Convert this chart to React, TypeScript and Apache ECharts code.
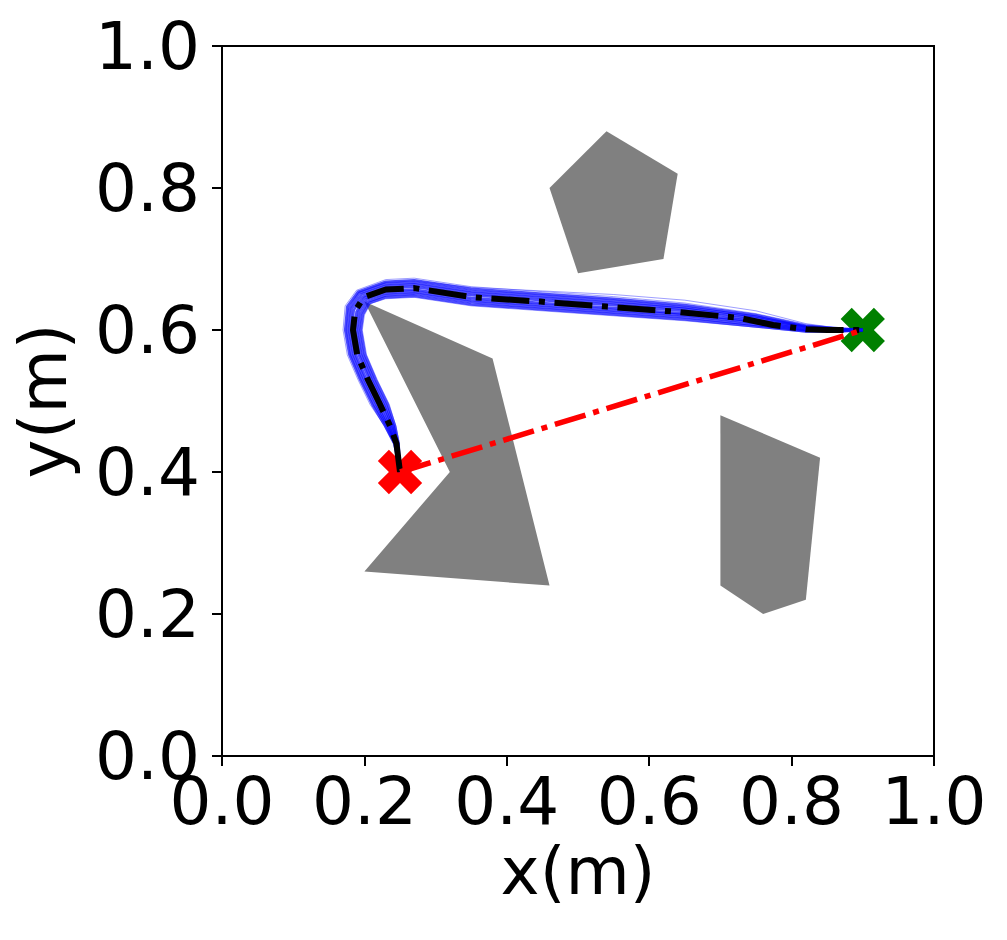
import React, { useEffect, useRef } from "react";
import * as echarts from "echarts";

const xTicks = [0, 0.2, 0.4, 0.6, 0.8, 1.0];
const startPoint = [0.25, 0.4];
const goalPoint = [0.9, 0.6];

const obstacles = [
  [[0.2, 0.64], [0.38, 0.56], [0.46, 0.24], [0.2, 0.26], [0.32, 0.4]],
  [[0.54, 0.88], [0.64, 0.82], [0.62, 0.7], [0.5, 0.68], [0.46, 0.8]],
  [[0.7, 0.48], [0.84, 0.42], [0.82, 0.22], [0.76, 0.2], [0.7, 0.24]],
];

const meanPath = [
  [0.25, 0.4], [0.245, 0.44], [0.236, 0.465], [0.222, 0.495], [0.205, 0.53], [0.19, 0.565],
  [0.184, 0.6], [0.187, 0.627], [0.199, 0.646], [0.23, 0.657], [0.27, 0.659], [0.353, 0.646],
  [0.447, 0.64], [0.54, 0.633], [0.634, 0.626], [0.727, 0.617], [0.774, 0.607], [0.821, 0.601],
  [0.85, 0.6], [0.9, 0.6],
];

const sampled1 = [[0.25, 0.4], [0.241, 0.44], [0.228, 0.465], [0.208, 0.495], [0.191, 0.53], [0.176, 0.565], [0.17, 0.6], [0.173, 0.634], [0.189, 0.656], [0.23, 0.671], [0.27, 0.673], [0.35, 0.661], [0.45, 0.654], [0.55, 0.647], [0.65, 0.638], [0.75, 0.623], [0.82, 0.608], [0.87, 0.602], [0.9, 0.6]];
const sampled2 = [[0.25, 0.4], [0.242, 0.44], [0.229, 0.465], [0.211, 0.495], [0.194, 0.53], [0.179, 0.565], [0.173, 0.6], [0.176, 0.633], [0.191, 0.654], [0.23, 0.668], [0.27, 0.67], [0.35, 0.658], [0.45, 0.651], [0.55, 0.644], [0.65, 0.635], [0.75, 0.621], [0.82, 0.606], [0.87, 0.602], [0.9, 0.6]];
const sampled3 = [[0.25, 0.4], [0.243, 0.44], [0.231, 0.465], [0.214, 0.495], [0.197, 0.53], [0.182, 0.565], [0.176, 0.6], [0.179, 0.631], [0.193, 0.652], [0.23, 0.665], [0.27, 0.667], [0.35, 0.655], [0.45, 0.648], [0.55, 0.641], [0.65, 0.632], [0.75, 0.619], [0.82, 0.605], [0.87, 0.601], [0.9, 0.6]];
const sampled4 = [[0.25, 0.4], [0.244, 0.44], [0.233, 0.465], [0.217, 0.495], [0.2, 0.53], [0.185, 0.565], [0.179, 0.6], [0.182, 0.63], [0.196, 0.65], [0.23, 0.662], [0.27, 0.664], [0.35, 0.652], [0.45, 0.645], [0.55, 0.638], [0.65, 0.63], [0.75, 0.617], [0.82, 0.604], [0.87, 0.601], [0.9, 0.6]];
const sampled5 = [[0.25, 0.4], [0.244, 0.44], [0.235, 0.465], [0.22, 0.495], [0.203, 0.53], [0.188, 0.565], [0.182, 0.6], [0.185, 0.628], [0.198, 0.647], [0.23, 0.659], [0.27, 0.661], [0.35, 0.649], [0.45, 0.642], [0.55, 0.635], [0.65, 0.627], [0.75, 0.614], [0.82, 0.603], [0.87, 0.6], [0.9, 0.6]];
const sampled6 = [[0.25, 0.4], [0.246, 0.44], [0.237, 0.465], [0.224, 0.495], [0.207, 0.53], [0.192, 0.565], [0.186, 0.6], [0.189, 0.626], [0.2, 0.645], [0.23, 0.655], [0.27, 0.657], [0.35, 0.645], [0.45, 0.638], [0.55, 0.631], [0.65, 0.623], [0.75, 0.612], [0.82, 0.601], [0.87, 0.6], [0.9, 0.6]];
const sampled7 = [[0.25, 0.4], [0.247, 0.44], [0.239, 0.465], [0.227, 0.495], [0.21, 0.53], [0.195, 0.565], [0.189, 0.6], [0.192, 0.625], [0.203, 0.643], [0.23, 0.652], [0.27, 0.654], [0.35, 0.642], [0.45, 0.635], [0.55, 0.628], [0.65, 0.621], [0.75, 0.61], [0.82, 0.6], [0.87, 0.599], [0.9, 0.6]];
const sampled8 = [[0.25, 0.4], [0.247, 0.44], [0.241, 0.465], [0.23, 0.495], [0.213, 0.53], [0.198, 0.565], [0.192, 0.6], [0.195, 0.623], [0.205, 0.64], [0.23, 0.649], [0.27, 0.651], [0.35, 0.639], [0.45, 0.632], [0.55, 0.625], [0.65, 0.618], [0.75, 0.607], [0.82, 0.599], [0.87, 0.599], [0.9, 0.6]];
const sampled9 = [[0.25, 0.4], [0.248, 0.44], [0.243, 0.465], [0.233, 0.495], [0.216, 0.53], [0.201, 0.565], [0.195, 0.6], [0.198, 0.622], [0.207, 0.638], [0.23, 0.646], [0.27, 0.648], [0.35, 0.636], [0.45, 0.629], [0.55, 0.622], [0.65, 0.615], [0.75, 0.605], [0.82, 0.598], [0.87, 0.598], [0.9, 0.6]];
const sampled10 = [[0.25, 0.4], [0.249, 0.44], [0.244, 0.465], [0.235, 0.495], [0.218, 0.53], [0.203, 0.565], [0.197, 0.6], [0.2, 0.621], [0.208, 0.637], [0.23, 0.644], [0.27, 0.646], [0.35, 0.634], [0.45, 0.627], [0.55, 0.62], [0.65, 0.613], [0.75, 0.604], [0.82, 0.597], [0.87, 0.598], [0.9, 0.6]];
const sampled11 = [[0.25, 0.4], [0.243, 0.44], [0.23, 0.465], [0.212, 0.495], [0.195, 0.53], [0.18, 0.565], [0.174, 0.6], [0.177, 0.632], [0.192, 0.653], [0.23, 0.667], [0.27, 0.669], [0.35, 0.66], [0.45, 0.655], [0.55, 0.65], [0.65, 0.642], [0.75, 0.627], [0.82, 0.609], [0.87, 0.602], [0.9, 0.6]];

const sampledPaths = [sampled1, sampled2, sampled3, sampled4, sampled5, sampled6, sampled7, sampled8, sampled9, sampled10, sampled11];
const outerPaths = [0, 9, 10];

const FONT = "DejaVu Sans";
const X_PATH = "path://M-1,-3L1,-3L1,-1L3,-1L3,1L1,1L1,3L-1,3L-1,1L-3,1L-3,-1L-1,-1Z";

export default function App() {
  const ref = useRef<HTMLDivElement>(null);
  useEffect(() => {
    if (!ref.current) return;
    const chart = echarts.init(ref.current, null, { renderer: "svg" });
    const axisCommon = {
      type: "value",
      min: 0,
      max: 1,
      interval: 0.2,
      splitLine: { show: false },
      axisLine: { show: true, onZero: false, lineStyle: { color: "#000", width: 2 } },
      axisTick: { show: true, inside: false, length: 10, lineStyle: { color: "#000", width: 2 } },
      nameTextStyle: { fontSize: 66, color: "#000", fontFamily: FONT },
    };
    const option: any = {
      animation: false,
      backgroundColor: "#fff",
      grid: { left: 222, top: 46, width: 712, height: 710, show: true, borderColor: "#000", borderWidth: 2, backgroundColor: "transparent" },
      xAxis: {
        ...axisCommon,
        name: "x(m)",
        nameLocation: "middle",
        nameGap: 82,
        axisLabel: { fontSize: 66, color: "#000", fontFamily: FONT, margin: 12, formatter: (v: number) => v.toFixed(1), customValues: xTicks },
      },
      yAxis: {
        ...axisCommon,
        name: "y(m)",
        nameLocation: "middle",
        nameGap: 146,
        axisLabel: { fontSize: 66, color: "#000", fontFamily: FONT, margin: 22, formatter: (v: number) => v.toFixed(1) },
      },
      series: [
        {
          type: "custom",
          renderItem: (params: any, api: any) => {
            const poly = obstacles[params.dataIndex];
            return {
              type: "polygon",
              shape: { points: poly.map((p) => api.coord(p)) },
              style: { fill: "#808080" },
            };
          },
          data: obstacles.map((p) => p[0]),
          silent: true,
          z: 1,
        },
        {
          type: "scatter",
          data: [startPoint],
          symbol: X_PATH,
          symbolRotate: 45,
          symbolSize: 47,
          itemStyle: { color: "#ff0000", opacity: 1 },
          silent: true,
          z: 2,
        },
        {
          type: "scatter",
          data: [goalPoint],
          symbol: X_PATH,
          symbolRotate: 45,
          symbolSize: 47,
          itemStyle: { color: "#008000", opacity: 1 },
          silent: true,
          z: 2,
        },
        ...sampledPaths.map((d, i) => {
          const outer = outerPaths.includes(i);
          return {
            type: "line",
            data: d,
            showSymbol: false,
            symbol: "none",
            silent: true,
            lineStyle: outer
              ? { color: "rgba(40,40,255,0.45)", width: 1 }
              : { color: "rgba(0,0,255,0.7)", width: 2.6 },
            z: 3,
          };
        }),
        {
          type: "line",
          data: meanPath,
          showSymbol: false,
          symbol: "none",
          silent: true,
          lineStyle: { color: "#000", width: 6, type: [38, 9.6, 6, 9.6], cap: "butt", join: "round" },
          z: 4,
        },
        {
          type: "line",
          data: [startPoint, goalPoint],
          showSymbol: false,
          symbol: "none",
          silent: true,
          lineStyle: { color: "#ff0000", width: 5.5, type: [32, 8, 6, 8], cap: "butt" },
          z: 5,
        },
      ],
    };
    chart.setOption(option);
    return () => chart.dispose();
  }, []);
  return <div ref={ref} style={{ position: "fixed", left: 0, top: 0, width: 1007, height: 940 }} />;
}
